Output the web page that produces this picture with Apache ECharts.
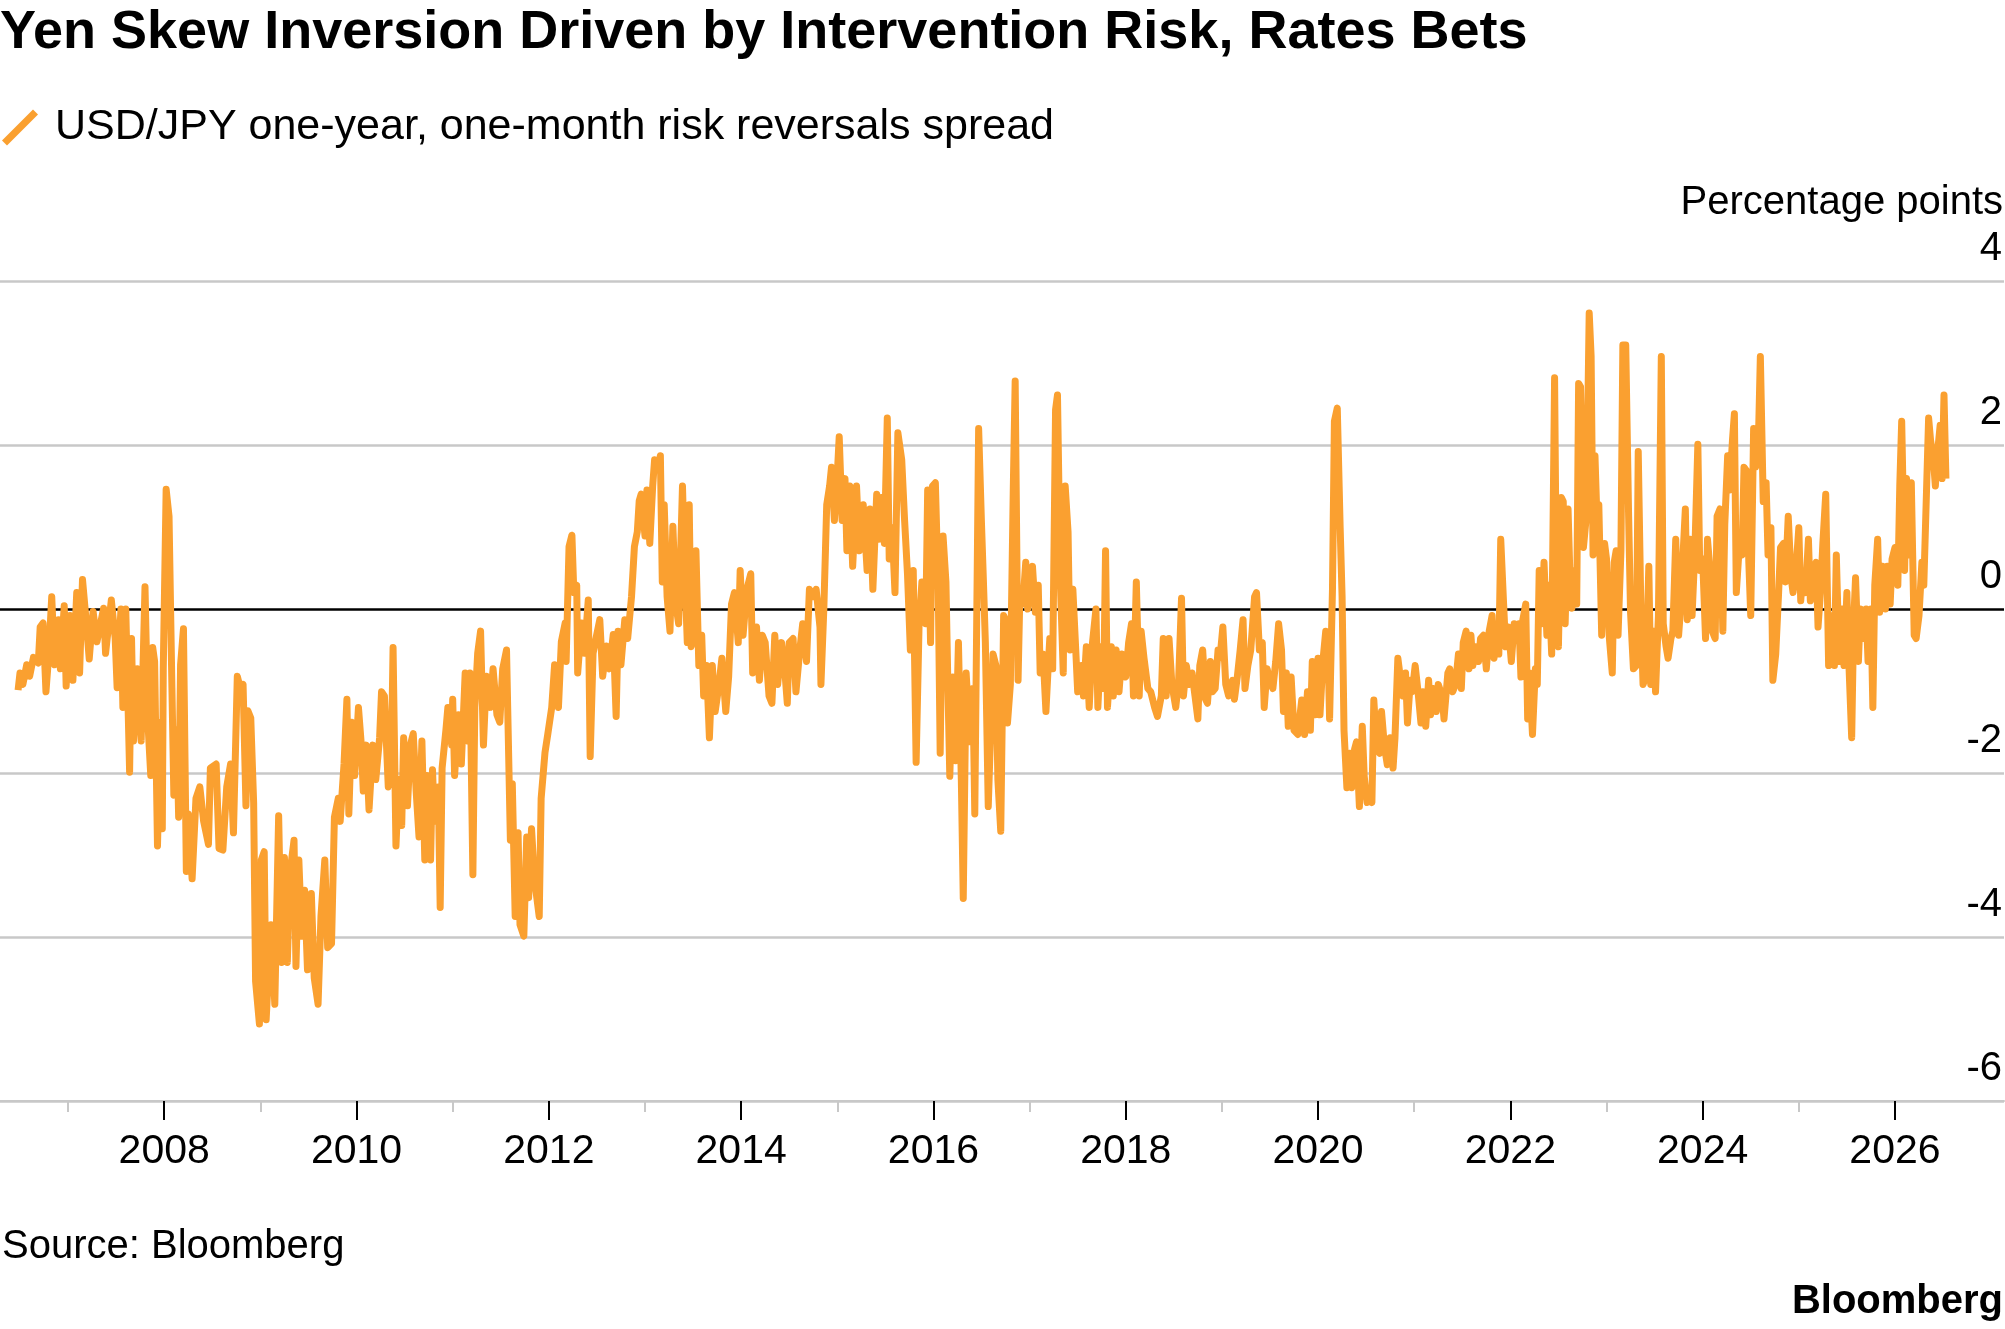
<!DOCTYPE html>
<html><head><meta charset="utf-8">
<script src="https://cdn.jsdelivr.net/npm/echarts@6/dist/echarts.min.js"></script>
<style>html,body{margin:0;padding:0;background:#fff}#c{width:2005px;height:1329px}</style>
</head><body><div id="c"></div>
<script>
// Decimal-year positions and values (percentage points)
const years = [
2006.48,2006.50,2006.53,2006.57,2006.60,2006.64,2006.69,2006.71,2006.74,2006.77,2006.80,2006.83,2006.86,2006.90,2006.92,2006.96,2006.98,
2007.02,2007.05,2007.09,2007.12,2007.15,2007.19,2007.22,2007.26,2007.30,2007.37,2007.39,2007.45,2007.49,2007.51,2007.55,2007.57,2007.60,2007.64,2007.66,2007.68,2007.72,2007.76,2007.80,2007.83,2007.86,2007.88,2007.90,2007.93,2007.96,2007.98,2007.99,
2008.02,2008.05,2008.08,2008.10,2008.13,2008.15,2008.17,2008.20,2008.23,2008.25,2008.29,2008.33,2008.37,2008.41,2008.46,2008.48,2008.54,2008.57,2008.61,2008.65,2008.69,2008.72,2008.76,2008.79,2008.82,2008.85,2008.87,2008.90,2008.93,2008.95,2008.99,
2009.01,2009.04,2009.06,2009.11,2009.15,2009.19,2009.22,2009.25,2009.28,2009.31,2009.35,2009.37,2009.40,2009.43,2009.46,2009.49,2009.53,2009.56,2009.60,2009.63,2009.67,2009.70,2009.74,2009.77,2009.81,2009.83,2009.87,2009.90,2009.92,2009.95,2009.98,
2010.02,2010.05,2010.07,2010.10,2010.13,2010.17,2010.20,2010.24,2010.26,2010.29,2010.33,2010.36,2010.38,2010.41,2010.44,2010.47,2010.49,2010.53,2010.56,2010.59,2010.62,2010.65,2010.68,2010.71,2010.73,2010.77,2010.79,2010.81,2010.85,2010.87,2010.89,2010.93,2010.95,2010.99,
2011.00,2011.02,2011.06,2011.09,2011.13,2011.16,2011.18,2011.21,2011.23,2011.26,2011.29,2011.32,2011.35,2011.39,2011.42,2011.46,2011.49,2011.52,2011.56,2011.58,2011.60,2011.62,2011.65,2011.68,2011.70,2011.74,2011.77,2011.79,2011.82,2011.85,2011.90,2011.92,2011.96,2011.99,
2012.03,2012.06,2012.10,2012.13,2012.17,2012.18,2012.21,2012.24,2012.26,2012.29,2012.30,2012.34,2012.37,2012.41,2012.43,2012.46,2012.49,2012.53,2012.56,2012.60,2012.63,2012.67,2012.70,2012.72,2012.75,2012.79,2012.82,2012.86,2012.89,2012.92,2012.94,2012.96,
2013.00,2013.02,2013.05,2013.08,2013.10,2013.14,2013.16,2013.18,2013.20,2013.23,2013.26,2013.29,2013.32,2013.35,2013.39,2013.41,2013.44,2013.46,2013.48,2013.51,2013.53,2013.56,2013.59,2013.61,2013.64,2013.67,2013.70,2013.73,2013.77,2013.80,2013.84,2013.87,2013.90,2013.93,2013.97,2013.99,
2014.02,2014.06,2014.10,2014.12,2014.16,2014.19,2014.22,2014.25,2014.29,2014.32,2014.35,2014.38,2014.42,2014.45,2014.48,2014.50,2014.54,2014.57,2014.61,2014.64,2014.68,2014.71,2014.75,2014.78,2014.82,2014.83,2014.86,2014.89,2014.92,2014.94,2014.97,
2015.00,2015.02,2015.05,2015.08,2015.10,2015.13,2015.16,2015.20,2015.23,2015.27,2015.31,2015.34,2015.37,2015.41,2015.43,2015.46,2015.49,2015.52,2015.54,2015.57,2015.60,2015.63,2015.67,2015.70,2015.73,2015.76,2015.79,2015.82,2015.85,2015.88,2015.92,2015.94,2015.97,2015.99,
2016.02,2016.05,2016.07,2016.10,2016.13,2016.15,2016.17,2016.20,2016.23,2016.26,2016.29,2016.31,2016.34,2016.38,2016.41,2016.43,2016.47,2016.50,2016.52,2016.54,2016.57,2016.59,2016.62,2016.65,2016.67,2016.70,2016.73,2016.75,2016.77,2016.80,2016.83,2016.85,2016.88,2016.90,2016.93,2016.96,2016.98,
2017.01,2017.03,2017.06,2017.09,2017.11,2017.14,2017.17,2017.19,2017.21,2017.24,2017.27,2017.29,2017.32,2017.35,2017.37,2017.40,2017.42,2017.45,2017.48,2017.50,2017.54,2017.56,2017.59,2017.62,2017.65,2017.69,2017.71,2017.74,2017.77,2017.79,2017.81,2017.85,2017.87,2017.90,2017.93,2017.96,
2018.00,2018.03,2018.06,2018.08,2018.11,2018.14,2018.16,2018.19,2018.23,2018.26,2018.30,2018.33,2018.37,2018.39,2018.42,2018.45,2018.48,2018.52,2018.55,2018.58,2018.60,2018.63,2018.66,2018.69,2018.72,2018.75,2018.77,2018.80,2018.83,2018.85,2018.88,2018.90,2018.93,2018.96,2018.98,
2019.01,2019.04,2019.07,2019.11,2019.13,2019.16,2019.19,2019.22,2019.24,2019.27,2019.30,2019.34,2019.36,2019.39,2019.42,2019.44,2019.47,2019.49,2019.53,2019.56,2019.59,2019.62,2019.64,2019.67,2019.69,2019.72,2019.75,2019.79,2019.81,2019.83,2019.86,2019.89,2019.92,2019.94,2019.97,
2020.00,2020.02,2020.05,2020.08,2020.10,2020.12,2020.15,2020.17,2020.20,2020.23,2020.25,2020.27,2020.30,2020.33,2020.35,2020.38,2020.40,2020.43,2020.46,2020.48,2020.51,2020.53,2020.56,2020.58,2020.61,2020.64,2020.66,2020.69,2020.72,2020.75,2020.78,2020.80,2020.83,2020.85,2020.88,2020.91,2020.93,2020.96,2020.98,
2021.01,2021.04,2021.07,2021.09,2021.12,2021.15,2021.17,2021.20,2021.23,2021.25,2021.29,2021.31,2021.35,2021.37,2021.40,2021.43,2021.46,2021.49,2021.51,2021.54,2021.57,2021.59,2021.61,2021.64,2021.67,2021.69,2021.72,2021.75,2021.78,2021.81,2021.83,2021.86,2021.88,2021.90,2021.93,2021.95,2021.98,
2022.01,2022.04,2022.06,2022.09,2022.11,2022.13,2022.16,2022.18,2022.20,2022.23,2022.26,2022.28,2022.30,2022.33,2022.35,2022.38,2022.40,2022.43,2022.46,2022.48,2022.50,2022.53,2022.55,2022.57,2022.60,2022.62,2022.64,2022.66,2022.69,2022.71,2022.73,2022.76,2022.79,2022.82,2022.84,2022.86,2022.88,2022.91,2022.92,2022.95,2022.98,
2023.00,2023.03,2023.06,2023.08,2023.10,2023.12,2023.15,2023.17,2023.20,2023.23,2023.25,2023.28,2023.31,2023.33,2023.36,2023.38,2023.41,2023.44,2023.46,2023.49,2023.51,2023.54,2023.57,2023.59,2023.62,2023.64,2023.67,2023.69,2023.72,2023.75,2023.77,2023.80,2023.82,2023.84,2023.87,2023.89,2023.92,2023.95,2023.97,
2024.00,2024.03,2024.05,2024.07,2024.10,2024.13,2024.15,2024.18,2024.21,2024.23,2024.26,2024.28,2024.31,2024.33,2024.35,2024.38,2024.41,2024.43,2024.46,2024.48,2024.50,2024.53,2024.55,2024.58,2024.60,2024.63,2024.66,2024.68,2024.71,2024.73,2024.76,2024.79,2024.81,2024.84,2024.86,2024.89,2024.92,2024.94,2024.97,
2025.00,2025.02,2025.04,2025.07,2025.10,2025.12,2025.15,2025.18,2025.20,2025.23,2025.25,2025.28,2025.31,2025.33,2025.37,2025.39,2025.42,2025.45,2025.47,2025.50,2025.52,2025.55,2025.57,2025.59,2025.62,2025.64,2025.67,2025.70,2025.72,2025.75,2025.77,2025.79,2025.82,2025.84,2025.87,2025.90,2025.92,2025.95,2025.97,
2026.00,2026.03,2026.05,2026.07,2026.10,2026.12,2026.15,2026.17,2026.20,2026.22,2026.25,2026.28,2026.30,2026.32,2026.35,2026.37,2026.40,2026.42,2026.44,2026.47,2026.49,2026.51,2026.53
];
const values = [
-0.99,-0.78,-0.92,-0.68,-0.82,-0.59,-0.66,-0.22,-0.17,-1.01,-0.54,0.15,-0.68,-0.13,-0.73,0.04,-0.94,
-0.08,-0.87,0.20,-0.78,0.36,-0.17,-0.61,-0.03,-0.40,0.01,-0.54,0.11,-0.36,-0.96,0.00,-1.20,0.00,-1.99,-0.36,-1.61,-0.73,-1.61,0.27,-1.38,-2.03,-0.47,-0.64,-2.89,-1.38,-2.68,-0.73,
1.46,1.13,-0.96,-2.27,-1.47,-2.54,-0.68,-0.24,-3.20,-2.50,-3.29,-2.31,-2.17,-2.59,-2.87,-1.94,-1.89,-2.92,-2.94,-2.17,-1.89,-2.73,-0.82,-0.96,-0.92,-2.40,-1.24,-1.33,-2.36,-4.54,-5.06,
-3.06,-2.96,-5.01,-3.85,-4.82,-2.52,-4.31,-3.03,-4.31,-3.20,-2.82,-4.36,-3.06,-3.99,-3.43,-4.40,-3.47,-4.50,-4.82,-3.75,-3.06,-4.13,-4.08,-2.54,-2.31,-2.59,-1.89,-1.10,-2.50,-1.38,-2.03,
-1.20,-1.66,-2.22,-1.66,-2.45,-1.66,-2.08,-1.57,-1.01,-1.06,-2.17,-1.99,-0.47,-2.89,-2.08,-2.64,-1.57,-2.40,-1.66,-1.52,-2.22,-2.78,-1.61,-3.06,-2.03,-3.06,-1.96,-2.59,-2.17,-3.64,-1.94,-1.47,-1.20,-1.66,
-1.10,-2.03,-1.29,-1.89,-0.78,-1.61,-0.78,-3.24,-1.20,-0.54,-0.27,-1.66,-0.82,-1.20,-0.73,-1.29,-1.38,-0.73,-0.50,-0.50,-2.82,-2.13,-3.75,-2.73,-3.85,-3.99,-2.78,-3.52,-2.68,-3.29,-3.75,-2.31,-1.75,-1.52,
-1.20,-0.68,-1.20,-0.40,-0.17,-0.64,0.76,0.90,0.20,0.29,-0.78,-0.17,-0.54,0.11,-1.80,-0.54,-0.36,-0.13,-0.82,-0.45,-0.73,-0.31,-1.31,-0.27,-0.68,-0.13,-0.36,0.15,0.76,0.94,1.32,1.40,
0.89,1.45,0.80,1.50,1.82,1.73,1.87,0.33,1.27,0.15,-0.27,1.01,0.06,-0.18,1.50,0.61,-0.41,1.27,-0.46,-0.32,0.71,-0.69,-0.32,-1.06,-0.69,-1.57,-0.69,-1.25,-0.92,-0.60,-1.25,-0.83,0.06,0.20,-0.41,0.47,
-0.32,0.24,0.43,-0.78,-0.22,-0.87,-0.32,-0.41,-1.06,-1.15,-0.32,-0.92,-0.41,-0.69,-1.15,-0.41,-0.36,-1.01,-0.50,-0.18,-0.64,0.24,0.15,0.24,-0.22,-0.92,0.00,1.27,1.50,1.73,1.08,
1.64,2.10,1.08,1.59,0.71,1.50,0.52,1.50,0.71,1.27,0.47,1.22,0.24,1.40,0.85,1.36,0.80,2.33,0.61,0.99,0.20,2.15,1.82,1.08,0.43,-0.50,0.47,-1.87,-0.22,0.33,-0.18,1.45,-0.41,1.50,
1.54,0.24,-1.76,0.89,0.33,-0.92,-2.04,-0.83,-1.85,-0.41,-2.08,-3.53,-0.78,-1.62,-0.97,-2.50,2.20,1.03,0.33,-0.41,-2.41,-2.41,-0.55,-0.69,-2.08,-2.71,-0.08,-0.13,-1.39,-0.92,1.45,2.78,-0.87,0.24,0.06,0.57,0.00,
0.33,0.52,-0.04,0.29,-0.78,-0.55,-1.25,-0.78,-0.36,-0.73,2.43,2.61,0.33,-0.78,1.50,0.94,-0.50,0.24,-0.50,-1.01,-0.69,-1.06,-0.46,-1.20,-0.46,0.00,-1.20,-0.46,-0.97,0.71,-1.20,-0.46,-1.06,-0.50,-1.01,-0.55,
-0.83,-0.41,-0.18,-1.06,0.33,-1.06,-0.27,-0.60,-0.97,-1.01,-1.20,-1.31,-1.06,-0.36,-1.06,-0.36,-0.92,-1.20,-0.87,0.13,-1.06,-0.69,-0.92,-0.78,-1.06,-1.34,-0.69,-0.50,-1.10,-1.15,-0.64,-1.01,-0.97,-0.50,-0.60,
-0.22,-0.92,-1.06,-0.87,-1.10,-0.83,-0.50,-0.13,-0.97,-0.69,-0.50,0.15,0.20,-0.50,-0.41,-1.20,-0.73,-0.83,-0.97,-0.64,-0.18,-0.50,-1.25,-0.78,-1.43,-0.83,-1.48,-1.53,-1.53,-1.11,-1.53,-1.01,-1.48,-0.64,-1.29,
-0.60,-1.29,-0.64,-0.27,-0.32,-1.34,0.24,2.29,2.45,0.99,0.15,-1.48,-2.18,-1.76,-2.18,-1.71,-1.62,-2.41,-1.43,-2.04,-2.36,-2.27,-2.36,-1.11,-1.71,-1.76,-1.25,-1.67,-1.90,-1.57,-1.94,-1.57,-0.60,-0.60,-1.06,-0.78,-1.39,-0.87,-1.01,
-0.69,-1.01,-1.39,-1.01,-1.43,-0.87,-1.29,-0.97,-1.25,-0.92,-1.06,-1.34,-0.78,-0.73,-1.01,-0.92,-0.55,-0.97,-0.41,-0.27,-0.73,-0.32,-0.69,-0.46,-0.64,-0.36,-0.32,-0.73,-0.27,-0.08,-0.60,-0.18,-0.55,0.85,0.06,-0.46,-0.22,
-0.64,-0.18,-0.36,-0.18,-0.83,-0.13,0.06,-1.34,-0.78,-1.53,-0.73,-0.92,0.47,-0.18,0.57,-0.32,0.29,-0.55,2.82,0.06,-0.46,1.36,1.31,-0.18,1.22,0.38,0.01,0.47,0.06,2.75,2.71,0.75,1.13,3.61,3.08,0.66,1.87,0.75,1.27,-0.32,0.80,
0.61,-0.36,-0.78,0.57,0.71,-0.32,0.71,3.22,3.22,1.13,-0.04,-0.73,-0.69,1.92,-0.18,-0.92,-0.83,0.52,-0.92,-0.27,-1.01,-0.08,3.08,-0.18,-0.46,-0.60,-0.36,-0.27,0.85,-0.32,0.00,0.75,1.22,-0.13,0.85,-0.08,0.75,2.01,0.47,
0.61,-0.36,0.85,0.57,-0.27,-0.36,1.13,1.22,-0.27,1.03,1.87,1.45,2.06,2.38,0.20,0.75,0.66,1.73,1.68,0.57,-0.08,2.20,1.73,2.06,3.08,1.31,1.54,0.66,0.99,-0.87,-0.55,0.20,0.75,0.80,0.33,1.13,0.38,0.20,0.47,
0.99,0.10,0.43,0.20,0.85,0.10,0.47,0.57,-0.22,0.29,0.80,1.40,-0.69,-0.08,-0.69,0.66,-0.64,0.00,-0.69,0.20,-0.64,-1.57,-0.18,0.38,-0.64,0.00,-0.36,0.00,-0.64,0.00,-1.20,0.29,0.85,-0.04,0.52,0.00,0.52,0.06,0.61,
0.75,0.29,1.50,2.29,0.47,1.59,0.66,1.54,-0.32,-0.36,-0.08,0.57,0.29,0.29,2.33,2.06,1.82,1.50,1.87,2.24,1.59,2.61,1.59
];
const yTicks = [-6, -4, -2, 0, 2, 4];
const labelYears = [2008, 2010, 2012, 2014, 2016, 2018, 2020, 2022, 2024, 2026];
const minorYears = [2007, 2009, 2011, 2013, 2015, 2017, 2019, 2021, 2023, 2025];

const seriesName = 'USD/JPY one-year, one-month risk reversals spread';
const FONT = '"Liberation Sans", Arial, sans-serif';
const ORANGE = '#FAA030';
const X_MIN = 2006.292, X_MAX = 2027.134;

const chart = echarts.init(document.getElementById('c'), null, {renderer: 'canvas'});
chart.setOption({
  animation: false,
  backgroundColor: '#fff',
  textStyle: {fontFamily: FONT},
  title: {
    text: 'Yen Skew Inversion Driven by Intervention Risk, Rates Bets',
    left: 0, top: 6, padding: 0,
    textStyle: {fontFamily: FONT, fontSize: 54, fontWeight: 'bold', color: '#000'}
  },
  legend: {
    left: 2, top: 106, padding: 0,
    itemWidth: 36, itemHeight: 36,
    data: [{name: seriesName, icon: 'path://M0,31 L31,0 L36,5 L5,36 Z'}],
    textStyle: {fontFamily: FONT, fontSize: 43, color: '#000', padding: [0, 0, 0, 12]}
  },
  grid: {left: 0, right: 0, top: 281, bottom: 228, containLabel: false},
  xAxis: [{
    type: 'value', min: X_MIN, max: X_MAX, position: 'bottom',
    axisLine: {show: true, onZero: false, lineStyle: {color: '#c8c8c8', width: 2}},
    axisTick: {show: true, customValues: labelYears, length: 19, lineStyle: {color: '#000', width: 2}},
    axisLabel: {customValues: labelYears, fontFamily: FONT, fontSize: 41, color: '#000', margin: 30,
      formatter: v => String(Math.round(v))},
    splitLine: {show: false}
  }, {
    type: 'value', min: X_MIN, max: X_MAX, position: 'bottom',
    axisLine: {show: false, onZero: false},
    axisTick: {show: true, customValues: minorYears, length: 11, lineStyle: {color: '#c8c8c8', width: 2}},
    axisLabel: {show: false},
    splitLine: {show: false}
  }],
  yAxis: {
    type: 'value', min: yTicks[0], max: yTicks[yTicks.length - 1], interval: 2, position: 'right',
    axisLine: {show: false}, axisTick: {show: false},
    axisLabel: {inside: true, margin: 2, fontFamily: FONT, fontSize: 40, color: '#000',
      verticalAlign: 'bottom', padding: [0, 0, 12, 0], formatter: v => String(v)},
    splitLine: {show: true, lineStyle: {color: ['#c8c8c8', '#c8c8c8', '#c8c8c8', '#000000', '#c8c8c8', '#c8c8c8'], width: 2.5}}
  },
  series: [{
    name: seriesName, type: 'line', xAxisIndex: 0, yAxisIndex: 0,
    showSymbol: false, symbol: 'none', smooth: false,
    color: ORANGE,
    lineStyle: {color: ORANGE, width: 7, join: 'round'},
    data: years.map((y, i) => [y, values[i]])
  }],
  graphic: [
    {type: 'text', x: 2003, y: 203, style: {text: 'Percentage points', font: '40px ' + FONT, fill: '#000', align: 'right', verticalAlign: 'middle'}},
    {type: 'text', x: 2, y: 1247, style: {text: 'Source: Bloomberg', font: '40px ' + FONT, fill: '#000', align: 'left', verticalAlign: 'middle'}},
    {type: 'text', x: 2003, y: 1302, style: {text: 'Bloomberg', font: 'bold 40px ' + FONT, fill: '#000', align: 'right', verticalAlign: 'middle'}}
  ]
});
</script>
</body></html>
